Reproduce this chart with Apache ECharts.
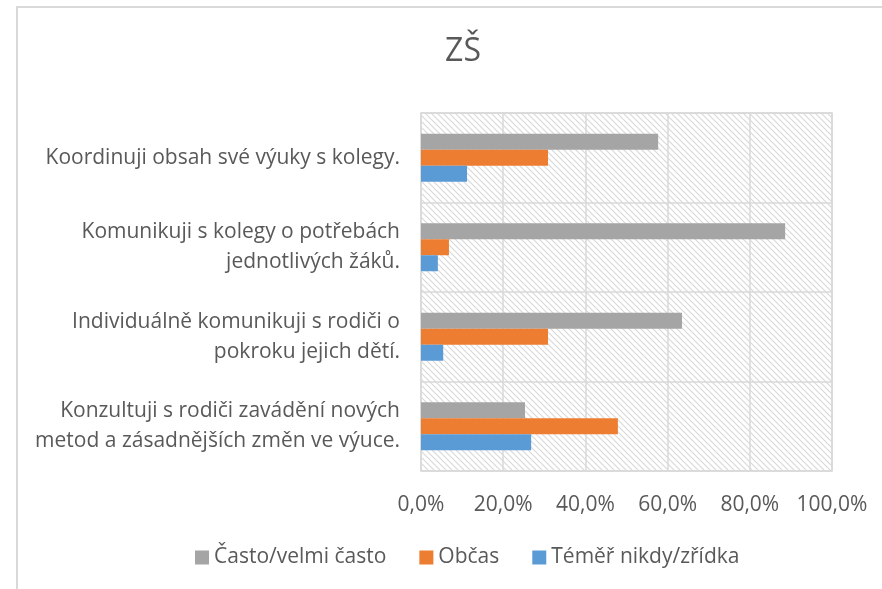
<!DOCTYPE html>
<html lang="cs">
  <head>
    <meta charset="UTF-8" />
    <title>ZŠ</title>
    <script src="https://cdn.jsdelivr.net/npm/echarts@6/dist/echarts.min.js"></script>
    <style>
      html,
      body,
      #chart {
        width: 100%;
        height: 100%;
        margin: 0;
        padding: 0;
        overflow: hidden;
        background: #fff;
      }
    </style>
  </head>
  <body>
    <div id="chart"></div>
    <script>
      // bottom to top, as the category axis draws them
      const categories = [
        "Konzultuji s rodiči zavádění nových\nmetod a zásadnějších změn ve výuce.",
        "Individuálně komunikuji s rodiči o\npokroku jejich dětí.",
        "Komunikuji s kolegy o potřebách\njednotlivých žáků.",
        "Koordinuji obsah své výuky s kolegy.",
      ];
      const seriesNames = ["Často/velmi často", "Občas", "Téměř nikdy/zřídka"];
      const casto = [25.3, 63.5, 88.6, 57.7];
      const obcas = [47.9, 30.9, 6.8, 30.9];
      const nikdy = [26.8, 5.4, 4.1, 11.2];
      const ticks = [0, 20, 40, 60, 80, 100];

      const colors = ["#a5a5a5", "#ed7d31", "#5b9bd5"];
      const font = "Open Sans";

      // diagonal hatch for the plot area
      function hatch() {
        const c = document.createElement("canvas");
        c.width = 6;
        c.height = 6;
        const ctx = c.getContext("2d");
        ctx.fillStyle = "#fff";
        ctx.fillRect(0, 0, 6, 6);
        ctx.strokeStyle = "#d9d9d9";
        ctx.lineWidth = 1.2;
        ctx.beginPath();
        ctx.moveTo(-1, -1);
        ctx.lineTo(7, 7);
        ctx.moveTo(-4, 2);
        ctx.lineTo(4, 10);
        ctx.moveTo(2, -4);
        ctx.lineTo(10, 4);
        ctx.stroke();
        return c;
      }

      const myChart = echarts.init(document.getElementById("chart"));
      const option = {
        animation: false,
        title: {
          text: "ZŠ",
          left: 458,
          top: 31,
          textAlign: "center",
          textStyle: {
            fontFamily: font,
            fontWeight: "normal",
            fontSize: 32,
            color: "#595959",
          },
        },
        legend: {
          data: seriesNames,
          top: 542,
          left: 190,
          itemWidth: 14,
          itemHeight: 14,
          itemGap: 33,
          icon: "rect",
          textStyle: { fontFamily: font, fontSize: 21, color: "#595959" },
        },
        grid: {
          left: 421,
          right: 50,
          top: 113,
          height: 358,
          show: true,
          backgroundColor: { image: hatch(), repeat: "repeat" },
          borderColor: "#d9d9d9",
          borderWidth: 1.5,
        },
        xAxis: {
          type: "value",
          min: 0,
          max: 100,
          interval: 20,
          axisLine: { show: false },
          axisTick: { show: false },
          splitLine: { lineStyle: { color: "#d9d9d9", width: 1.5 } },
          axisLabel: {
            margin: 24,
            fontFamily: font,
            fontSize: 21,
            color: "#595959",
            formatter: (v) =>
              ticks.includes(v) ? v.toFixed(1).replace(".", ",") + "%" : "",
          },
        },
        yAxis: {
          type: "category",
          data: categories,
          axisLine: { show: false },
          axisTick: { show: false },
          splitLine: { show: true, lineStyle: { color: "#d9d9d9", width: 1.5 } },
          axisLabel: {
            margin: 21,
            fontFamily: font,
            fontSize: 21,
            lineHeight: 30,
            color: "#595959",
            align: "right",
          },
        },
        series: [casto, obcas, nikdy].map((d, i) => ({
          name: seriesNames[i],
          type: "bar",
          data: d,
          barWidth: 16,
          barGap: "0%",
          itemStyle: { color: colors[i] },
        })),
        graphic: [
          {
            type: "rect",
            shape: { x: 17, y: 7, width: 900, height: 620 },
            style: { fill: "none", stroke: "#d9d9d9", lineWidth: 2 },
            silent: true,
          },
        ],
      };
      myChart.setOption(option);
    </script>
  </body>
</html>
